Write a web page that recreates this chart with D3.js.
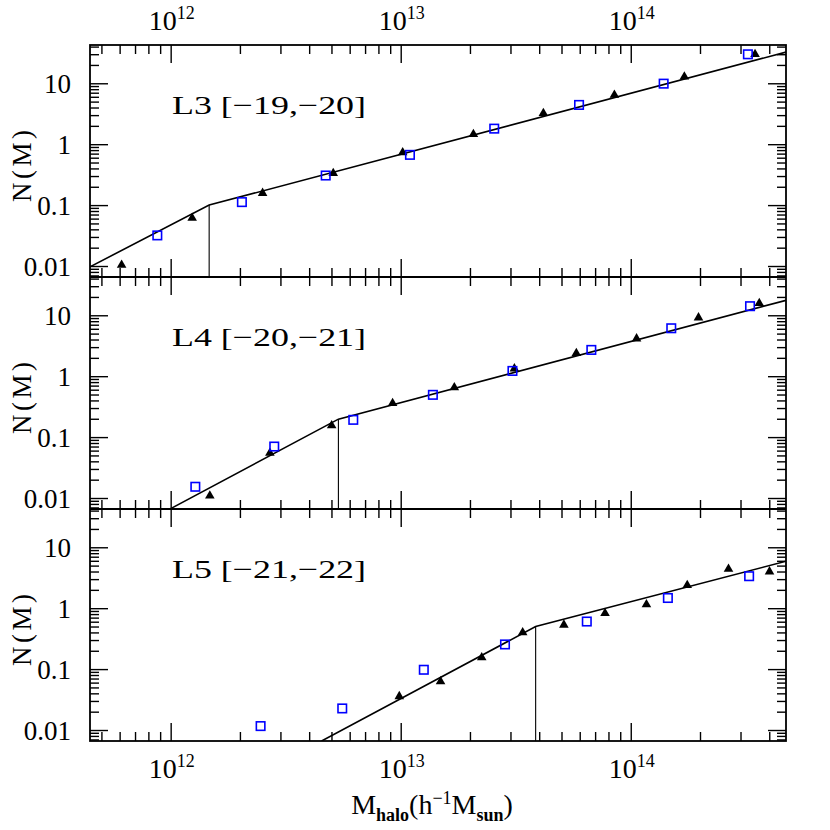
<!DOCTYPE html>
<html>
<head>
<meta charset="utf-8">
<script src="https://cdn.jsdelivr.net/npm/d3@7"></script>
<style>
  html, body { margin: 0; padding: 0; background: #fff; }
  svg { display: block; }
</style>
</head>
<body>
<div id="chart"></div>
<script>
// ---------------- DATA ----------------
const panelNames = ["L3 [\u221219,\u221220]", "L4 [\u221220,\u221221]", "L5 [\u221221,\u221222]"];

// Halo mass domain and occupation domain
const xDomain = [4.46e11, 4.73e14];
const yDomain = [0.0066, 42.5];

// Tick values / labels
const xMajorTicks = [1e12, 1e13, 1e14];
const xTickExponents = ["12", "13", "14"];
const yMajorTicks = [0.01, 0.1, 1, 10];
const yTickLabels = ["0.01", "0.1", "1", "10"];

// L3 [-19,-20]
const l3SqMass = [8.75e11, 2.04e12, 4.72e12, 1.097e13, 2.55e13, 5.96e13, 1.39e14, 3.23e14];
const l3SqN    = [0.0318, 0.112, 0.306, 0.668, 1.80, 4.41, 9.86, 29.9];
const l3TriMass = [6.12e11, 1.24e12, 2.51e12, 5.09e12, 1.02e13, 2.07e13, 4.17e13, 8.49e13, 1.71e14, 3.47e14];
const l3TriN    = [0.0104, 0.0612, 0.157, 0.334, 0.73, 1.46, 3.22, 6.43, 12.8, 29.9];
const l3LineMass = [4.46e11, 1.47e12, 4.73e14];
const l3LineN    = [0.0097, 0.1, 32.5];

// L4 [-20,-21]
const l4SqMass = [1.28e12, 2.82e12, 6.22e12, 1.38e13, 3.06e13, 6.74e13, 1.50e14, 3.30e14];
const l4SqN    = [0.0153, 0.070, 0.192, 0.494, 1.22, 2.70, 6.12, 14.1];
const l4TriMass = [1.48e12, 2.70e12, 5.01e12, 9.22e12, 1.71e13, 3.12e13, 5.80e13, 1.06e14, 1.97e14, 3.62e14];
const l4TriN    = [0.0109, 0.0547, 0.155, 0.36, 0.65, 1.33, 2.38, 4.14, 9.14, 15.7];
const l4LineMass = [1.0e12, 5.36e12, 4.73e14];
const l4LineN    = [0.0067, 0.197, 17.6];

// L5 [-21,-22]
const l5SqMass = [2.46e12, 5.57e12, 1.26e13, 2.84e13, 6.44e13, 1.45e14, 3.27e14];
const l5SqN    = [0.0116, 0.0226, 0.0975, 0.254, 0.604, 1.47, 3.35];
const l5TriMass = [9.86e12, 1.49e13, 2.25e13, 3.39e13, 5.12e13, 7.73e13, 1.17e14, 1.76e14, 2.66e14, 4.01e14];
const l5TriN    = [0.0356, 0.0626, 0.155, 0.40, 0.532, 0.828, 1.15, 2.38, 4.4, 3.98];
const l5LineMass = [4.53e12, 3.86e13, 4.73e14];
const l5LineN    = [0.0066, 0.5, 5.9];

const panels = [
  {name: panelNames[0], sqM: l3SqMass, sqN: l3SqN, triM: l3TriMass, triN: l3TriN, lineM: l3LineMass, lineN: l3LineN},
  {name: panelNames[1], sqM: l4SqMass, sqN: l4SqN, triM: l4TriMass, triN: l4TriN, lineM: l4LineMass, lineN: l4LineN},
  {name: panelNames[2], sqM: l5SqMass, sqN: l5SqN, triM: l5TriMass, triN: l5TriN, lineM: l5LineMass, lineN: l5LineN}
];

// ---------------- LAYOUT ----------------
const W = 830, H = 830;
const left = 90, right = 786;
const panelTops = [45, 277, 509];
const panelH = 232;
const FONT = "'Liberation Serif', 'Times New Roman', serif";

const svg = d3.select("#chart").append("svg")
  .attr("width", W).attr("height", H)
  .style("background", "#fff");

const x = d3.scaleLog().domain(xDomain).range([left, right]);

// minor tick values
function minorTicks(domain) {
  const out = [];
  const lo = Math.floor(Math.log10(domain[0])), hi = Math.ceil(Math.log10(domain[1]));
  for (let e = lo; e <= hi; e++) {
    for (let k = 2; k <= 9; k++) {
      const v = k * Math.pow(10, e);
      if (v >= domain[0] && v <= domain[1]) out.push(v);
    }
  }
  return out;
}
const xMinor = minorTicks(xDomain);
const yMinor = minorTicks(yDomain);

const MAJ = 18, MIN = 9;

function styleAxis(g) {
  g.select(".domain").remove();
  g.selectAll(".tick line").attr("stroke", "#000").attr("stroke-width", 1.4);
  g.attr("font-family", FONT);
}

panels.forEach((p, i) => {
  const top = panelTops[i];
  const bottom = top + panelH;
  const y = d3.scaleLog().domain(yDomain).range([bottom, top]);
  const g = svg.append("g");

  const clipId = "clip" + i;
  svg.append("clipPath").attr("id", clipId)
    .append("rect").attr("x", left).attr("y", top).attr("width", right - left).attr("height", panelH);

  // Left axis: major with labels
  g.append("g").attr("transform", `translate(${left},0)`)
    .call(d3.axisLeft(y).tickValues(yMajorTicks).tickSize(-MAJ).tickPadding(MAJ + 1)
      .tickFormat((d, j) => yTickLabels[j]))
    .call(styleAxis)
    .call(a => a.selectAll("text").attr("font-size", 27).attr("fill", "#000").attr("dy", "0.34em"));
  g.append("g").attr("transform", `translate(${left},0)`)
    .call(d3.axisLeft(y).tickValues(yMinor).tickSize(-MIN).tickFormat(""))
    .call(styleAxis);
  // Right axis
  g.append("g").attr("transform", `translate(${right},0)`)
    .call(d3.axisRight(y).tickValues(yMajorTicks).tickSize(-MAJ).tickFormat(""))
    .call(styleAxis);
  g.append("g").attr("transform", `translate(${right},0)`)
    .call(d3.axisRight(y).tickValues(yMinor).tickSize(-MIN).tickFormat(""))
    .call(styleAxis);
  // Top & bottom x ticks
  [[top, d3.axisTop], [bottom, d3.axisBottom]].forEach(([yy, ax]) => {
    g.append("g").attr("transform", `translate(0,${yy})`)
      .call(ax(x).tickValues(xMajorTicks).tickSize(-MAJ).tickFormat(""))
      .call(styleAxis);
    g.append("g").attr("transform", `translate(0,${yy})`)
      .call(ax(x).tickValues(xMinor).tickSize(-MIN).tickFormat(""))
      .call(styleAxis);
  });

  // Model line
  const lineData = p.lineM.map((m, j) => [m, p.lineN[j]]);
  g.append("path")
    .attr("clip-path", `url(#${clipId})`)
    .attr("d", d3.line().x(d => x(d[0])).y(d => y(d[1]))(lineData))
    .attr("fill", "none").attr("stroke", "#000").attr("stroke-width", 1.6);
  // vertical line at break
  const brk = lineData[1];
  g.append("line")
    .attr("x1", x(brk[0])).attr("x2", x(brk[0]))
    .attr("y1", y(brk[1])).attr("y2", y(yDomain[0]))
    .attr("stroke", "#000").attr("stroke-width", 1.1);

  // triangles
  const tri = d3.symbol().type(d3.symbolTriangle).size(40);
  g.selectAll("path.tri").data(p.triM.map((m, j) => [m, p.triN[j]])).join("path")
    .attr("class", "tri")
    .attr("d", tri)
    .attr("transform", d => `translate(${x(d[0])},${y(d[1])})`)
    .attr("fill", "#000");
  // squares
  const s = 8.5;
  g.selectAll("rect.sq").data(p.sqM.map((m, j) => [m, p.sqN[j]])).join("rect")
    .attr("class", "sq")
    .attr("x", d => x(d[0]) - s / 2).attr("y", d => y(d[1]) - s / 2)
    .attr("width", s).attr("height", s)
    .attr("fill", "none").attr("stroke", "#0000ff").attr("stroke-width", 1.6);

  // panel label
  g.append("text")
    .attr("x", 172).attr("y", top + 69)
    .attr("font-family", FONT).attr("font-size", 26)
    .attr("textLength", 194).attr("lengthAdjust", "spacingAndGlyphs")
    .text(p.name);

  // y-axis title
  g.append("text")
    .attr("transform", `translate(31,${top + panelH / 2 + 5}) rotate(-90)`)
    .attr("text-anchor", "middle")
    .attr("font-family", FONT).attr("font-size", 27)
    .attr("textLength", 72).attr("lengthAdjust", "spacing")
    .text("N(M)");
});

// Frame
svg.append("rect").attr("x", left).attr("y", panelTops[0])
  .attr("width", right - left).attr("height", panelH * 3)
  .attr("fill", "none").attr("stroke", "#000").attr("stroke-width", 1.8);
[panelTops[1], panelTops[2]].forEach(yy => {
  svg.append("line").attr("x1", left).attr("x2", right).attr("y1", yy).attr("y2", yy)
    .attr("stroke", "#000").attr("stroke-width", 1.8);
});

// x tick labels (top & bottom)
function xLabel(yBase) {
  xMajorTicks.forEach((v, j) => {
    const t = svg.append("text")
      .attr("x", x(v) + 1).attr("y", yBase)
      .attr("text-anchor", "middle")
      .attr("font-family", FONT).attr("font-size", 28);
    t.append("tspan").text("10");
    t.append("tspan").attr("dy", -11).attr("font-size", 18).text(xTickExponents[j]);
  });
}
xLabel(30);
xLabel(778);

// x-axis title
const xt = svg.append("text")
  .attr("x", 432).attr("y", 814)
  .attr("text-anchor", "middle")
  .attr("font-family", FONT).attr("font-size", 28);
xt.append("tspan").text("M");
xt.append("tspan").attr("dy", 7).attr("font-size", 18).attr("font-weight", "bold").text("halo");
xt.append("tspan").attr("dy", -7).text("(h");
xt.append("tspan").attr("dy", -10).attr("font-size", 18).text("\u22121");
xt.append("tspan").attr("dy", 10).text("M");
xt.append("tspan").attr("dy", 7).attr("font-size", 18).attr("font-weight", "bold").text("sun");
xt.append("tspan").attr("dy", -7).text(")");
</script>
</body>
</html>
